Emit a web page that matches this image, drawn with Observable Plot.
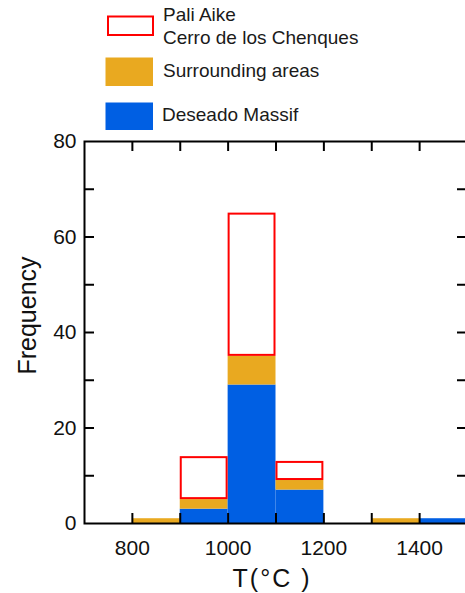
<!DOCTYPE html>
<html><head><meta charset="utf-8">
<script src="https://cdn.jsdelivr.net/npm/d3@7"></script>
<script src="https://cdn.jsdelivr.net/npm/@observablehq/plot@0.6"></script>
<style>
html,body{margin:0;padding:0;background:#fff;overflow:hidden;}
#wrap{width:465px;height:593px;overflow:hidden;position:relative;}
svg{display:block;max-width:none !important;}
</style></head><body><div id="wrap"></div>
<script>
// ---- data ----
const binStarts = [800, 900, 1000, 1100, 1300, 1400];
const binEnds = [900, 1000, 1100, 1200, 1400, 1500];
const deseadoMassif = [0, 3, 29, 7, 0, 1];
const surroundingAreas = [1, 2, 6, 2, 1, 0];
const paliAikeChenques = [0, 9, 30, 4, 0, 0];
const seriesNames = ["Deseado Massif", "Surrounding areas", "Pali Aike / Cerro de los Chenques"];
const legendLabels = [["Pali Aike", "Cerro de los Chenques"], ["Surrounding areas"], ["Deseado Massif"]];
const xTickLabels = [800, 1000, 1200, 1400];
const xMinorTicks = [800, 900, 1000, 1100, 1200, 1300, 1400];
const yTickLabels = [0, 20, 40, 60, 80];
const yMinorTicks = [10, 20, 30, 40, 50, 60, 70];
const xLabel = "T(°C )";
const yLabel = "Frequency";

const BLUE = "#005FE3", ORANGE = "#E9A920", RED = "#FF0000";
const FONT = "'Liberation Sans', Arial, Helvetica, sans-serif";

const seriesValues = [deseadoMassif, surroundingAreas, paliAikeChenques];
const rows = [];
binStarts.forEach((x1, i) => {
  let base = 0;
  seriesValues.forEach((vals, s) => {
    const v = vals[i];
    if (v > 0) rows.push({x1, x2: binEnds[i], y1: base, y2: base + v, series: seriesNames[s]});
    base += v;
  });
});
const filled = rows.filter(d => d.series !== seriesNames[2]);
const outlined = rows.filter(d => d.series === seriesNames[2]);

// ---- legend (above the plot) ----
const legend = d3.create("svg").attr("width", 465).attr("height", 130)
  .style("font-family", FONT).style("font-size", "19px");
legend.append("rect").attr("x", 108).attr("y", 16.5).attr("width", 45).attr("height", 18.5)
  .attr("fill", "white").attr("stroke", RED).attr("stroke-width", 2);
legend.append("rect").attr("x", 105.5).attr("y", 57.5).attr("width", 47.5).attr("height", 28.5).attr("fill", ORANGE);
legend.append("rect").attr("x", 105.5).attr("y", 102.5).attr("width", 47.5).attr("height", 28).attr("fill", BLUE);
const lt = [[163, 21, legendLabels[0][0]], [163, 43.5, legendLabels[0][1]], [163, 76.5, legendLabels[1][0]], [162, 120.5, legendLabels[2][0]]];
lt.forEach(([x, y, t]) => legend.append("text").attr("x", x).attr("y", y).attr("fill", "#1a1a1a").text(t));
document.getElementById("wrap").appendChild(legend.node());

// ---- plot ----
const W = 475, H = 463, mT = 11, mB = 70, mL = 84, mR = 8;
const innerH = H - mT - mB, innerW = W - mL - mR, TICK = 10;

const chart = Plot.plot({
  width: W, height: H,
  marginTop: mT, marginBottom: mB, marginLeft: mL, marginRight: mR,
  style: {fontFamily: FONT, background: "white", color: "#111", maxWidth: "none", overflow: "visible"},
  x: {domain: [700, 1500]},
  y: {domain: [0, 80]},
  color: {domain: seriesNames.slice(0, 2), range: [BLUE, ORANGE]},
  marks: [
    Plot.rect(filled, {x1: "x1", x2: "x2", y1: "y1", y2: "y2", fill: "series", inset: 0}),
    Plot.rect(outlined, {x1: "x1", x2: "x2", y1: "y1", y2: "y2", fill: "white", stroke: RED, strokeWidth: 2, inset: 1}),
    // inward ticks
    Plot.ruleX(xMinorTicks, {stroke: "black", strokeWidth: 2, insetTop: innerH - TICK}),
    Plot.ruleX(xMinorTicks, {stroke: "black", strokeWidth: 2, insetBottom: innerH - TICK}),
    Plot.ruleY(yMinorTicks, {stroke: "black", strokeWidth: 2, insetRight: innerW - TICK}),
    Plot.ruleY(yMinorTicks, {stroke: "black", strokeWidth: 2, insetLeft: innerW - TICK}),
    Plot.frame({stroke: "black", strokeWidth: 2}),
    Plot.axisX({ticks: xTickLabels, tickSize: 0, tickPadding: 17, fontSize: 21, label: null, tickFormat: d => String(d)}),
    Plot.axisY({ticks: yTickLabels, tickSize: 0, tickPadding: 8, fontSize: 21, label: null}),
    Plot.text([yLabel], {frameAnchor: "left", rotate: -90, dx: -49, dy: -17, fontSize: 25, lineAnchor: "bottom", textAnchor: "middle", fill: "#111"}),
    Plot.text([xLabel], {frameAnchor: "bottom", dy: 63, dx: -4, fontSize: 25, lineAnchor: "bottom", textAnchor: "middle", fill: "#111"})
  ]
});
document.getElementById("wrap").appendChild(chart);
d3.select(chart).selectAll("text").filter(function() { return this.textContent === xLabel; })
  .style("letter-spacing", "2px");
</script>
</body></html>
